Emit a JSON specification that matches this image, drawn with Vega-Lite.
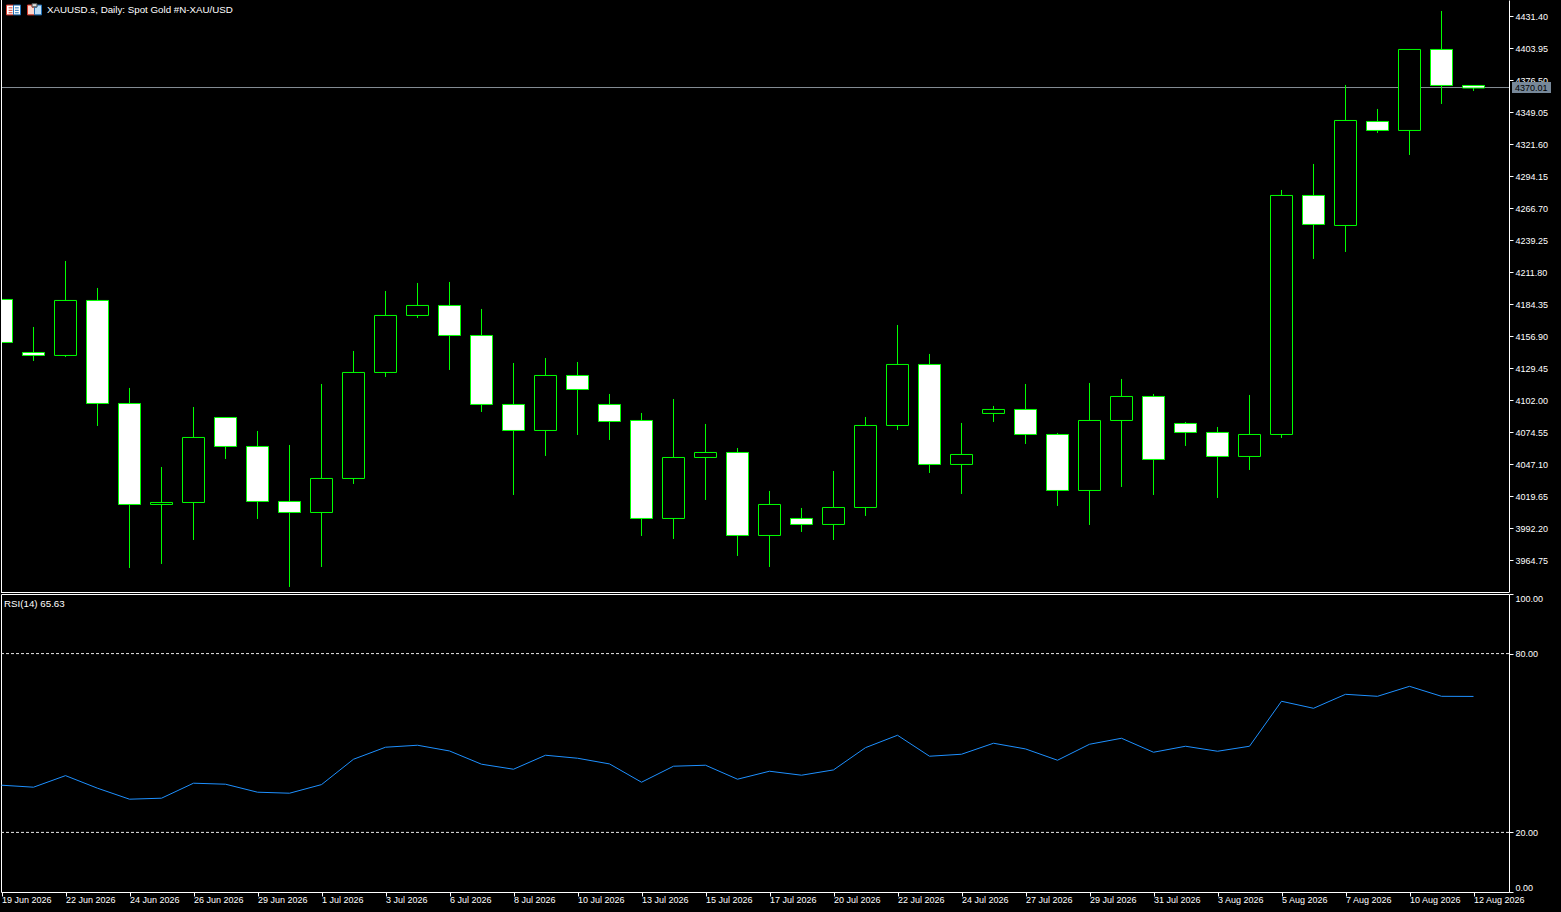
{
  "$schema": "https://vega.github.io/schema/vega-lite/v6.json",
  "background": "black",
  "padding": {"left": -1, "top": -1, "right": 10, "bottom": 7},
  "spacing": 2,
  "bounds": "flush",
  "config": {
    "view": {"stroke": null},
    "font": "Liberation Sans",
    "axis": {"grid": false, "labelColor": "white", "tickColor": "white", "domainColor": "white", "labelFont": "Liberation Sans", "labelFontSize": 9},
    "title": {"color": "white", "font": "Liberation Sans", "fontSize": 9.75, "fontWeight": "normal", "anchor": "start", "frame": "group"}
  },
  "datasets": {
    "bars": [
      {"date": "19 Jun 2026", "open": 4188.64, "high": 4188.64, "low": 4151.75, "close": 4151.75, "rsi": 35.84},
      {"date": "21 Jun 2026", "open": 4143.17, "high": 4165.05, "low": 4135.88, "close": 4140.60, "rsi": 35.17},
      {"date": "22 Jun 2026", "open": 4140.60, "high": 4221.66, "low": 4139.31, "close": 4187.78, "rsi": 39.05},
      {"date": "23 Jun 2026", "open": 4187.78, "high": 4198.50, "low": 4080.12, "close": 4099.42, "rsi": 34.83},
      {"date": "24 Jun 2026", "open": 4099.42, "high": 4112.72, "low": 3958.31, "close": 4012.78, "rsi": 31.14},
      {"date": "25 Jun 2026", "open": 4012.78, "high": 4044.95, "low": 3961.75, "close": 4014.50, "rsi": 31.48},
      {"date": "26 Jun 2026", "open": 4014.50, "high": 4096.42, "low": 3982.33, "close": 4070.26, "rsi": 36.51},
      {"date": "28 Jun 2026", "open": 4087.41, "high": 4087.41, "low": 4051.82, "close": 4062.54, "rsi": 36.17},
      {"date": "29 Jun 2026", "open": 4062.54, "high": 4075.83, "low": 4000.35, "close": 4015.36, "rsi": 33.49},
      {"date": "30 Jun 2026", "open": 4015.36, "high": 4063.82, "low": 3942.02, "close": 4005.92, "rsi": 33.15},
      {"date": "1 Jul 2026", "open": 4005.92, "high": 4116.15, "low": 3959.17, "close": 4035.09, "rsi": 36.04},
      {"date": "2 Jul 2026", "open": 4035.09, "high": 4144.46, "low": 4030.37, "close": 4126.02, "rsi": 44.55},
      {"date": "3 Jul 2026", "open": 4126.02, "high": 4195.93, "low": 4122.16, "close": 4174.91, "rsi": 48.58},
      {"date": "5 Jul 2026", "open": 4174.91, "high": 4202.79, "low": 4172.77, "close": 4183.49, "rsi": 49.25},
      {"date": "6 Jul 2026", "open": 4183.49, "high": 4203.65, "low": 4128.16, "close": 4157.75, "rsi": 47.33},
      {"date": "7 Jul 2026", "open": 4157.75, "high": 4180.49, "low": 4092.13, "close": 4098.57, "rsi": 42.88},
      {"date": "8 Jul 2026", "open": 4098.57, "high": 4134.16, "low": 4020.93, "close": 4076.26, "rsi": 41.20},
      {"date": "9 Jul 2026", "open": 4076.26, "high": 4138.45, "low": 4054.39, "close": 4123.44, "rsi": 45.89},
      {"date": "10 Jul 2026", "open": 4123.44, "high": 4135.02, "low": 4072.40, "close": 4111.43, "rsi": 44.89},
      {"date": "12 Jul 2026", "open": 4098.57, "high": 4107.57, "low": 4068.11, "close": 4083.98, "rsi": 42.98},
      {"date": "13 Jul 2026", "open": 4084.84, "high": 4091.27, "low": 3985.76, "close": 4000.78, "rsi": 36.84},
      {"date": "14 Jul 2026", "open": 4000.78, "high": 4103.28, "low": 3983.19, "close": 4053.10, "rsi": 42.21},
      {"date": "15 Jul 2026", "open": 4053.10, "high": 4081.84, "low": 4016.64, "close": 4057.39, "rsi": 42.54},
      {"date": "16 Jul 2026", "open": 4057.39, "high": 4061.25, "low": 3968.61, "close": 3986.19, "rsi": 37.85},
      {"date": "17 Jul 2026", "open": 3986.19, "high": 4024.37, "low": 3959.17, "close": 4012.78, "rsi": 40.53},
      {"date": "19 Jul 2026", "open": 4000.78, "high": 4009.78, "low": 3989.20, "close": 3995.63, "rsi": 39.19},
      {"date": "20 Jul 2026", "open": 3995.63, "high": 4041.52, "low": 3982.33, "close": 4010.21, "rsi": 40.97},
      {"date": "21 Jul 2026", "open": 4010.21, "high": 4087.84, "low": 4002.92, "close": 4080.55, "rsi": 48.44},
      {"date": "22 Jul 2026", "open": 4080.55, "high": 4166.76, "low": 4076.69, "close": 4132.88, "rsi": 52.60},
      {"date": "23 Jul 2026", "open": 4132.88, "high": 4141.89, "low": 4039.81, "close": 4047.10, "rsi": 45.56},
      {"date": "24 Jul 2026", "open": 4047.10, "high": 4082.70, "low": 4021.79, "close": 4055.67, "rsi": 46.23},
      {"date": "26 Jul 2026", "open": 4090.85, "high": 4097.28, "low": 4083.55, "close": 4094.28, "rsi": 49.92},
      {"date": "27 Jul 2026", "open": 4094.28, "high": 4116.15, "low": 4064.68, "close": 4072.83, "rsi": 48.01},
      {"date": "28 Jul 2026", "open": 4072.83, "high": 4074.12, "low": 4011.50, "close": 4024.79, "rsi": 44.22},
      {"date": "29 Jul 2026", "open": 4024.79, "high": 4117.01, "low": 3995.20, "close": 4084.84, "rsi": 49.58},
      {"date": "30 Jul 2026", "open": 4084.84, "high": 4120.44, "low": 4027.80, "close": 4105.43, "rsi": 51.59},
      {"date": "31 Jul 2026", "open": 4105.43, "high": 4107.57, "low": 4020.93, "close": 4051.39, "rsi": 46.90},
      {"date": "2 Aug 2026", "open": 4082.27, "high": 4083.55, "low": 4062.97, "close": 4074.55, "rsi": 48.91},
      {"date": "3 Aug 2026", "open": 4074.55, "high": 4079.26, "low": 4018.36, "close": 4053.96, "rsi": 47.23},
      {"date": "4 Aug 2026", "open": 4053.96, "high": 4106.72, "low": 4042.38, "close": 4072.83, "rsi": 48.91},
      {"date": "5 Aug 2026", "open": 4072.83, "high": 4282.57, "low": 4069.83, "close": 4277.85, "rsi": 64.00},
      {"date": "6 Aug 2026", "open": 4277.85, "high": 4304.87, "low": 4223.38, "close": 4252.97, "rsi": 61.65},
      {"date": "7 Aug 2026", "open": 4252.11, "high": 4372.64, "low": 4229.38, "close": 4342.18, "rsi": 66.34},
      {"date": "9 Aug 2026", "open": 4341.33, "high": 4352.05, "low": 4331.46, "close": 4333.61, "rsi": 65.67},
      {"date": "10 Aug 2026", "open": 4333.61, "high": 4403.09, "low": 4312.59, "close": 4403.09, "rsi": 69.02},
      {"date": "11 Aug 2026", "open": 4403.09, "high": 4436.11, "low": 4356.34, "close": 4372.21, "rsi": 65.67},
      {"date": "12 Aug 2026", "open": 4372.21, "high": 4372.21, "low": 4367.49, "close": 4370.01, "rsi": 65.63}
    ]
  },
  "data": {"name": "bars"},
  "vconcat": [
    {
      "width": 1508,
      "height": 592,
      "title": {"text": "XAUUSD.s, Daily:  Spot Gold #N-XAU/USD", "offset": -15, "dx": 46},
      "layer": [
        {
          "transform": [{"filter": "datum.date == '12 Aug 2026'"}],
          "mark": {"type": "rule", "color": "#868e96", "strokeWidth": 1, "yOffset": -0.5},
          "encoding": {
            "y": {
              "field": "close",
              "type": "quantitative",
              "title": null,
              "scale": {"domain": [3937.70, 4445.52], "nice": false, "zero": false},
              "axis": {
                "orient": "right",
                "values": [4431.40, 4403.95, 4376.50, 4349.05, 4321.60, 4294.15, 4266.70, 4239.25, 4211.80, 4184.35, 4156.90, 4129.45, 4102.00, 4074.55, 4047.10, 4019.65, 3992.20, 3964.75],
                "tickCount": 18,
                "format": ".2f",
                "tickSize": 4,
                "labelPadding": 2
              }
            }
          }
        },
        {
          "transform": [{"filter": "datum.date == '12 Aug 2026'"}],
          "mark": {"type": "rule", "color": "white", "strokeWidth": 1, "yOffset": 0.5},
          "encoding": {"y": {"datum": 3937.70, "type": "quantitative", "title": null}}
        },
        {
          "mark": {"type": "rule", "color": "#00ff00", "strokeWidth": 1},
          "encoding": {
            "x": {
              "field": "date",
              "type": "ordinal",
              "title": null,
              "scale": {
                "type": "point",
                "padding": 0,
                "range": [0.5, 1472.5],
                "domain": ["19 Jun 2026", "21 Jun 2026", "22 Jun 2026", "23 Jun 2026", "24 Jun 2026", "25 Jun 2026", "26 Jun 2026", "28 Jun 2026", "29 Jun 2026", "30 Jun 2026", "1 Jul 2026", "2 Jul 2026", "3 Jul 2026", "5 Jul 2026", "6 Jul 2026", "7 Jul 2026", "8 Jul 2026", "9 Jul 2026", "10 Jul 2026", "12 Jul 2026", "13 Jul 2026", "14 Jul 2026", "15 Jul 2026", "16 Jul 2026", "17 Jul 2026", "19 Jul 2026", "20 Jul 2026", "21 Jul 2026", "22 Jul 2026", "23 Jul 2026", "24 Jul 2026", "26 Jul 2026", "27 Jul 2026", "28 Jul 2026", "29 Jul 2026", "30 Jul 2026", "31 Jul 2026", "2 Aug 2026", "3 Aug 2026", "4 Aug 2026", "5 Aug 2026", "6 Aug 2026", "7 Aug 2026", "9 Aug 2026", "10 Aug 2026", "11 Aug 2026", "12 Aug 2026"]
              },
              "axis": {"labels": false, "ticks": false, "domain": false}
            },
            "y": {"field": "low", "type": "quantitative", "title": null},
            "y2": {"field": "high"}
          }
        },
        {
          "mark": {"type": "bar", "size": 22, "stroke": "#00ff00", "strokeWidth": 1, "clip": true},
          "encoding": {
            "x": {"field": "date", "type": "ordinal", "title": null},
            "y": {"field": "open", "type": "quantitative", "title": null},
            "y2": {"field": "close"},
            "fill": {"condition": {"test": "datum.close > datum.open", "value": "black"}, "value": "white"}
          }
        },
        {
          "transform": [{"filter": "datum.date == '19 Jun 2026'"}],
          "mark": {"type": "rule", "color": "white", "strokeWidth": 1},
          "encoding": {"x": {"field": "date", "type": "ordinal", "title": null}}
        },
        {
          "transform": [{"filter": "datum.date == '12 Aug 2026'"}],
          "mark": {"type": "rect", "color": "#778899", "xOffset": 38.5, "x2Offset": 77.5, "clip": false},
          "encoding": {
            "x": {"field": "date", "type": "ordinal", "title": null},
            "x2": {"field": "date"},
            "y": {"datum": 4375.2, "type": "quantitative", "title": null},
            "y2": {"datum": 4365.77}
          }
        },
        {
          "transform": [{"filter": "datum.date == '12 Aug 2026'"}],
          "mark": {"type": "text", "align": "left", "dx": 41.5, "color": "black", "fontSize": 9, "font": "Liberation Sans"},
          "encoding": {
            "x": {"field": "date", "type": "ordinal", "title": null},
            "y": {"field": "close", "type": "quantitative", "title": null},
            "text": {"field": "close", "type": "quantitative", "format": ".2f"}
          }
        },
        {
          "transform": [{"filter": "datum.date == '19 Jun 2026'"}],
          "layer": [
            {"mark": {"type": "point", "filled": true, "size": 196, "xOffset": 12, "color": "white", "opacity": 1, "shape": "M-1 -.7H1V.7H-1Z"}},
            {"mark": {"type": "point", "filled": false, "size": 196, "xOffset": 12, "color": "#d9382a", "opacity": 1, "strokeWidth": 1, "shape": "M-1 -.7H0V.7H-1Z M-.7 -.3H-.15 M-.7 .05H-.15 M-.7 .4H-.15"}},
            {"mark": {"type": "point", "filled": false, "size": 196, "xOffset": 12, "color": "#1f6fb5", "opacity": 1, "strokeWidth": 1, "shape": "M0 -.7H1V.7H0Z M.2 -.3H.75 M.2 .05H.75 M.2 .4H.75"}},
            {"mark": {"type": "point", "filled": true, "size": 196, "xOffset": 33, "fill": "#fbd5cc", "stroke": "#d9382a", "opacity": 1, "strokeWidth": 1, "shape": "M-1 -.7H-.35V-.4H0V.7H-1Z"}},
            {"mark": {"type": "point", "filled": true, "size": 196, "xOffset": 33, "fill": "#bcdcf5", "stroke": "#1f6fb5", "opacity": 1, "strokeWidth": 1, "shape": "M1 -.7H.35V-.4H0V.7H1Z"}},
            {"mark": {"type": "point", "filled": true, "size": 196, "xOffset": 33, "fill": "#dddddd", "stroke": "#555555", "opacity": 1, "strokeWidth": 1, "shape": "M-.35 -.9H.35V-.45H-.35Z"}}
          ],
          "encoding": {
            "x": {"field": "date", "type": "ordinal", "title": null},
            "y": {"datum": 4436.97, "type": "quantitative", "title": null}
          }
        }
      ]
    },
    {
      "width": 1508,
      "height": 298,
      "view": {"stroke": "white"},
      "title": {"text": "RSI(14) 65.63", "offset": -15, "dx": 3},
      "layer": [
        {
          "data": {"values": [{"level": 20}, {"level": 80}]},
          "mark": {"type": "rule", "color": "#e8e8e8", "strokeWidth": 1, "strokeDash": [3, 2]},
          "encoding": {
            "y": {
              "field": "level",
              "type": "quantitative",
              "title": null,
              "scale": {"domain": [0, 100], "nice": false, "zero": false},
              "axis": {"orient": "right", "values": [0, 20, 80, 100], "format": ".2f", "tickSize": 4, "labelPadding": 2, "labelFlush": true, "domain": false}
            }
          }
        },
        {
          "mark": {"type": "line", "color": "#1e90ff", "strokeWidth": 1},
          "encoding": {
            "x": {
              "field": "date",
              "type": "ordinal",
              "title": null,
              "sort": null,
              "scale": {
                "type": "point",
                "padding": 0,
                "range": [0.5, 1472.5],
                "domain": ["19 Jun 2026", "21 Jun 2026", "22 Jun 2026", "23 Jun 2026", "24 Jun 2026", "25 Jun 2026", "26 Jun 2026", "28 Jun 2026", "29 Jun 2026", "30 Jun 2026", "1 Jul 2026", "2 Jul 2026", "3 Jul 2026", "5 Jul 2026", "6 Jul 2026", "7 Jul 2026", "8 Jul 2026", "9 Jul 2026", "10 Jul 2026", "12 Jul 2026", "13 Jul 2026", "14 Jul 2026", "15 Jul 2026", "16 Jul 2026", "17 Jul 2026", "19 Jul 2026", "20 Jul 2026", "21 Jul 2026", "22 Jul 2026", "23 Jul 2026", "24 Jul 2026", "26 Jul 2026", "27 Jul 2026", "28 Jul 2026", "29 Jul 2026", "30 Jul 2026", "31 Jul 2026", "2 Aug 2026", "3 Aug 2026", "4 Aug 2026", "5 Aug 2026", "6 Aug 2026", "7 Aug 2026", "9 Aug 2026", "10 Aug 2026", "11 Aug 2026", "12 Aug 2026"]
              },
              "axis": {
                "values": ["19 Jun 2026", "22 Jun 2026", "24 Jun 2026", "26 Jun 2026", "29 Jun 2026", "1 Jul 2026", "3 Jul 2026", "6 Jul 2026", "8 Jul 2026", "10 Jul 2026", "13 Jul 2026", "15 Jul 2026", "17 Jul 2026", "20 Jul 2026", "22 Jul 2026", "24 Jul 2026", "27 Jul 2026", "29 Jul 2026", "31 Jul 2026", "3 Aug 2026", "5 Aug 2026", "7 Aug 2026", "10 Aug 2026", "12 Aug 2026"],
                "labelAngle": 0,
                "labelAlign": "left",
                "labelBaseline": "top",
                "labelOverlap": false,
                "labelBound": false,
                "labelFlush": false,
                "labelPadding": -1,
                "labelFontSize": 9,
                "tickSize": 4
              }
            },
            "y": {"field": "rsi", "type": "quantitative", "title": null}
          }
        }
      ]
    }
  ]
}
